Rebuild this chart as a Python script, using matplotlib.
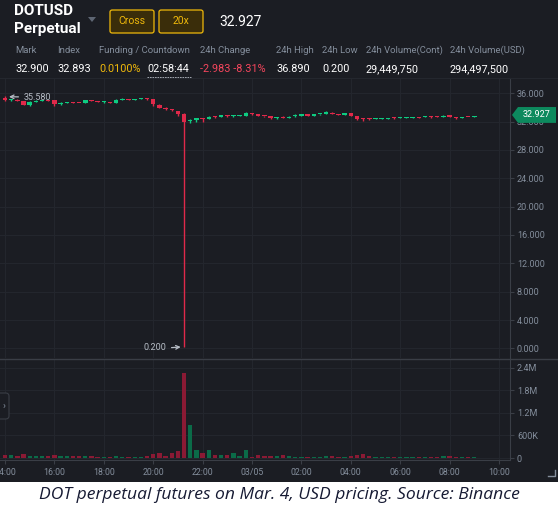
import matplotlib
matplotlib.use('Agg')
import matplotlib.pyplot as plt
import matplotlib.transforms as mtransforms
from matplotlib.patches import Rectangle, FancyBboxPatch, Polygon
from matplotlib.lines import Line2D

# 15 minute candles, 14:00 (Mar 4) to 09:00 (Mar 5)
opens = [35.25, 35.00, 35.10, 34.85, 34.30, 34.80, 34.95, 35.05, 35.00, 34.50,
         34.60, 34.70, 34.65, 34.62, 35.00, 34.90, 34.75, 34.78, 34.60, 35.05,
         35.15, 35.05, 35.15, 35.25, 35.15, 34.40, 33.85, 33.72, 33.50, 33.10,
         32.05, 32.15, 32.45, 32.40, 32.70, 32.62, 32.95, 32.72, 32.80, 32.85,
         33.22, 33.00, 32.82, 32.75, 32.45, 32.70, 32.50, 32.75, 32.85, 33.05,
         32.85, 33.00, 33.05, 33.25, 33.05, 32.95, 33.15, 32.80, 32.35, 32.38,
         32.35, 32.38, 32.42, 32.52, 32.50, 32.55, 32.52, 32.60, 32.60, 32.70,
         32.70, 32.65, 32.90, 32.65, 32.55, 32.65, 32.62]
closes = [35.00, 35.10, 34.95, 34.35, 34.80, 34.95, 35.05, 34.95, 34.45, 34.60,
          34.70, 34.62, 34.60, 35.05, 34.90, 34.80, 34.80, 34.68, 35.10, 35.20,
          35.05, 35.20, 35.30, 35.15, 34.45, 33.90, 33.72, 33.60, 33.10, 32.00,
          32.15, 32.45, 32.35, 32.70, 32.60, 32.95, 32.72, 32.80, 32.90, 33.25,
          33.00, 32.80, 32.75, 32.45, 32.65, 32.50, 32.70, 32.85, 33.05, 32.85,
          33.05, 33.05, 33.30, 33.05, 32.98, 33.15, 32.80, 32.30, 32.30, 32.33,
          32.42, 32.45, 32.50, 32.45, 32.60, 32.60, 32.58, 32.55, 32.72, 32.65,
          32.65, 32.85, 32.65, 32.50, 32.65, 32.60, 32.70]
highs = [35.58, 35.15, 35.15, 34.90, 34.85, 35.05, 35.10, 35.10, 35.05, 34.70,
         34.75, 34.75, 34.68, 35.08, 35.05, 34.92, 34.90, 34.82, 35.12, 35.25,
         35.18, 35.22, 35.38, 35.28, 35.20, 34.42, 33.98, 33.78, 33.55, 33.15,
         32.40, 32.50, 32.48, 32.75, 32.85, 32.98, 32.98, 32.90, 32.95, 33.35,
         33.25, 33.02, 32.85, 32.78, 32.68, 32.72, 32.72, 33.00, 33.08, 33.08,
         33.08, 33.08, 33.48, 33.28, 33.08, 33.18, 33.25, 32.82, 32.55, 32.55,
         32.45, 32.48, 32.52, 32.60, 32.62, 32.62, 32.60, 32.62, 32.85, 32.80,
         32.72, 32.88, 32.95, 32.68, 32.68, 32.68, 32.72]
lows = [34.95, 34.95, 34.90, 34.30, 34.25, 34.75, 34.90, 34.90, 34.20, 34.40,
        34.55, 34.58, 34.55, 34.60, 34.88, 34.75, 34.68, 34.65, 34.58, 35.02,
        35.00, 35.02, 35.12, 35.10, 34.25, 33.85, 33.68, 33.45, 32.85, 0.20,
        31.85, 31.90, 32.00, 32.35, 32.55, 32.60, 32.70, 32.65, 32.78, 32.82,
        32.98, 32.75, 32.70, 32.42, 32.42, 32.45, 32.48, 32.60, 32.82, 32.82,
        32.82, 32.98, 33.02, 33.02, 32.95, 32.92, 32.78, 32.25, 32.10, 32.20,
        32.30, 32.35, 32.40, 32.42, 32.48, 32.52, 32.50, 32.52, 32.58, 32.55,
        32.62, 32.62, 32.62, 32.40, 32.52, 32.57, 32.60]
# volume, millions of contracts
volumes = [0.09, 0.08, 0.05, 0.11, 0.065, 0.045, 0.04, 0.065, 0.085, 0.055,
           0.04, 0.055, 0.04, 0.04, 0.04, 0.03, 0.03, 0.03, 0.04, 0.03,
           0.03, 0.03, 0.03, 0.04, 0.10, 0.125, 0.06, 0.14, 0.175, 2.26,
           0.875, 0.22, 0.12, 0.20, 0.09, 0.085, 0.085, 0.12, 0.05, 0.20,
           0.015, 0.07, 0.055, 0.05, 0.055, 0.085, 0.055, 0.03, 0.025, 0.025,
           0.02, 0.035, 0.05, 0.05, 0.035, 0.02, 0.055, 0.09, 0.105, 0.06,
           0.03, 0.02, 0.02, 0.03, 0.02, 0.02, 0.02, 0.03, 0.02, 0.025,
           0.02, 0.055, 0.065, 0.035, 0.02, 0.02, 0.02]

time_ticks = [0, 8, 16, 24, 32, 40, 48, 56, 64, 72, 80]
time_labels = ['14:00', '16:00', '18:00', '20:00', '22:00', '03/05',
               '02:00', '04:00', '06:00', '08:00', '10:00']
price_ticks = [0, 4, 8, 12, 16, 20, 24, 28, 32, 36]
vol_ticks = [0, 0.6, 1.2, 1.8, 2.4]
vol_labels = ['0', '600K', '1.2M', '1.8M', '2.4M']
last_price = 32.927

W, H = 558, 513
BG = '#1b1d23'
GRID = '#24272e'
AXIS = '#3a3e46'
MUTED = '#848e9c'
GREEN = '#0ecb81'
RED = '#e0294a'
VGREEN = '#0b6b48'
VRED = '#8a1a34'
GOLD = '#f0b90b'
FONT = ['Roboto', 'DejaVu Sans']


def fx(px):
    return px / W


def fy(py):
    return 1 - py / H


fig = plt.figure(figsize=(W / 100, H / 100), dpi=100)
fig.patch.set_facecolor('white')
fig.add_artist(Rectangle((0, fy(482)), 1, 482 / H, transform=fig.transFigure,
                         facecolor=BG, edgecolor='none', zorder=-10))

xs = list(range(len(opens)))
up = [c >= o for o, c in zip(opens, closes)]
colors = [GREEN if u else RED for u in up]
vcolors = [VGREEN if u else VRED for u in up]

# Price panel
ax = fig.add_axes([0, fy(358), 510 / W, (358 - 78) / H])
ax.set_facecolor(BG)
ax.vlines(xs, lows, highs, colors=colors, lw=1, zorder=2)
bottoms = [min(o, c) for o, c in zip(opens, closes)]
heights = [max(abs(c - o), 0.14) for o, c in zip(opens, closes)]
ax.bar(xs, heights, bottom=bottoms, width=0.72, color=colors, zorder=3)
ax.set_xlim(-0.81, 81.78)
ax.set_ylim(-1.354, 38.14)
ax.set_xticks(time_ticks)
ax.set_yticks(price_ticks)
ax.set_yticklabels([f'{v:.3f}' for v in price_ticks])
ax.yaxis.tick_right()
ax.tick_params(axis='x', length=0, labelbottom=False)
ax.tick_params(axis='y', length=3, width=0.8, color=AXIS, pad=2,
               labelsize=6.5, labelcolor=MUTED)
ax.grid(True, color=GRID, lw=0.7)
for s in ['top', 'left', 'bottom']:
    ax.spines[s].set_visible(False)
ax.spines['right'].set_color(AXIS)

# Last price tag
tr = mtransforms.blended_transform_factory(fig.transFigure, ax.transData)
hh = 1.12
tag = Polygon([(fx(512), last_price), (fx(518), last_price + hh),
               (fx(556), last_price + hh), (fx(556), last_price - hh),
               (fx(518), last_price - hh)], closed=True, transform=tr,
              facecolor='#0d8a5e', edgecolor='none', clip_on=False, zorder=5)
ax.add_patch(tag)
ax.text(fx(537), last_price, f'{last_price:.3f}', transform=tr, ha='center',
        va='center', color='white', fontsize=6.5, family=FONT, zorder=6,
        clip_on=False)

# High / low markers
ax.annotate('35.580', xy=(0.65, 35.5), xytext=(24, H - 97),
            textcoords='figure pixels', ha='left', va='center',
            fontsize=6.5, color='#b7bdc6', family=FONT,
            arrowprops=dict(arrowstyle='->', color='#b7bdc6', lw=0.9,
                            relpos=(0, 0.5), shrinkA=2, shrinkB=0))
ax.annotate('0.200', xy=(28.45, 0.2), xytext=(166, H - 348),
            textcoords='figure pixels', ha='right', va='center',
            fontsize=6.5, color='#b7bdc6', family=FONT,
            arrowprops=dict(arrowstyle='->', color='#b7bdc6', lw=0.9,
                            relpos=(1, 0.5), shrinkA=2, shrinkB=0))

# Volume panel
axv = fig.add_axes([0, fy(460), 510 / W, (460 - 359) / H])
axv.set_facecolor(BG)
axv.bar(xs, volumes, width=0.7, color=vcolors, zorder=3)
axv.set_xlim(-0.81, 81.78)
axv.set_ylim(-0.053, 2.626)
axv.set_yticks(vol_ticks)
axv.set_yticklabels(vol_labels)
axv.yaxis.tick_right()
axv.set_xticks(time_ticks)
axv.set_xticklabels(time_labels)
axv.tick_params(axis='y', length=3, width=0.8, color=AXIS, pad=2,
                labelsize=6.5, labelcolor=MUTED)
axv.tick_params(axis='x', length=3, width=0.8, color=AXIS, pad=3,
                labelsize=6.3, labelcolor=MUTED)
axv.grid(True, color=GRID, lw=0.7)
for s in ['top', 'left']:
    axv.spines[s].set_visible(False)
axv.spines['right'].set_color(AXIS)
axv.spines['bottom'].set_color(AXIS)
clip = mtransforms.TransformedBbox(
    mtransforms.Bbox.from_extents(0, 0, 510 / W, 1), fig.transFigure)
for lbl in axv.get_xticklabels():
    lbl.set_clip_box(clip)
    lbl.set_clip_on(True)
for lbl in ax.get_yticklabels() + axv.get_yticklabels():
    lbl.set_family(FONT)
for lbl in axv.get_xticklabels():
    lbl.set_family(FONT)

# Separators
fig.add_artist(Line2D([0, 1], [fy(358.5), fy(358.5)], color=AXIS, lw=1))
fig.add_artist(Line2D([0, 1], [fy(78), fy(78)], color=GRID, lw=0.8))

# Collapse button and resize handle
fig.add_artist(FancyBboxPatch((fx(-3), fy(419)), fx(12), 26 / H,
                              boxstyle='round,pad=0,rounding_size=0.006',
                              transform=fig.transFigure, facecolor=BG,
                              edgecolor=AXIS, lw=0.8))
fig.text(fx(4), fy(406), '›', ha='center', va='center', color=MUTED,
         fontsize=7, family=FONT)
fig.add_artist(Line2D([fx(548), fx(555), fx(555)],
                      [fy(476), fy(476), fy(470)], color=MUTED, lw=1))

# Header
fig.text(fx(14), fy(11), 'DOTUSD', ha='left', va='center', color='white',
         fontsize=11, fontweight='bold', family=FONT)
fig.text(fx(14), fy(29), 'Perpetual', ha='left', va='center', color='white',
         fontsize=11, fontweight='bold', family=FONT)
fig.add_artist(Polygon([(fx(88), fy(17)), (fx(96), fy(17)), (fx(92), fy(22))],
                       closed=True, transform=fig.transFigure,
                       facecolor='#5e6673', edgecolor='none'))
for x0, label in [(110, 'Cross'), (159, '20x')]:
    fig.add_artist(FancyBboxPatch((fx(x0), fy(33)), fx(44), 23 / H,
                                  boxstyle='round,pad=0,rounding_size=0.004',
                                  transform=fig.transFigure,
                                  facecolor='#3a2d0a', edgecolor=GOLD,
                                  lw=0.9))
    fig.text(fx(x0 + 22), fy(21.5), label, ha='center', va='center',
             color=GOLD, fontsize=7.5, family=FONT)
fig.text(fx(219), fy(21.5), '32.927', ha='left', va='center', color='white',
         fontsize=10, family=FONT)

head_labels = [(15, 'Mark'), (57, 'Index'), (99, 'Funding / Countdown'),
               (200, '24h Change'), (276, '24h High'), (322, '24h Low'),
               (366, '24h Volume(Cont)'), (450, '24h Volume(USD)')]
head_values = [(15, '32.900', 'white'), (57, '32.893', 'white'),
               (99, '0.0100%', GOLD), (147, '02:58:44', 'white'),
               (200, '-2.983 -8.31%', '#f6465d'), (276, '36.890', 'white'),
               (322, '0.200', 'white'), (366, '29,449,750', 'white'),
               (450, '294,497,500', 'white')]
for x0, t in head_labels:
    fig.text(fx(x0), fy(50.5), t, ha='left', va='center', color=MUTED,
             fontsize=6.8, family=FONT)
for x0, t, c in head_values:
    fig.text(fx(x0), fy(69), t, ha='left', va='center', color=c,
             fontsize=7.8, family=FONT)
fig.add_artist(Line2D([fx(147), fx(191)], [fy(76.5), fy(76.5)],
                      color='#b7bdc6', lw=0.6, ls=(0, (2, 1))))

# Caption
fig.text(0.5, fy(495), 'DOT perpetual futures on Mar. 4, USD pricing. '
         'Source: Binance', ha='center', va='center', color='#161a33',
         fontsize=12.6, style='italic', family=['Open Sans', 'DejaVu Sans'])

fig.savefig('out.png', dpi=100, facecolor=fig.get_facecolor())
